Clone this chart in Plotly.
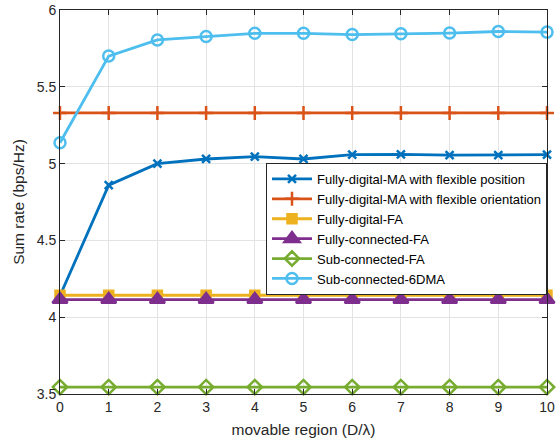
import plotly.graph_objects as go

x = list(range(11))
names = [
    "Fully-digital-MA with flexible position",
    "Fully-digital-MA with flexible orientation",
    "Fully-digital-FA",
    "Fully-connected-FA",
    "Sub-connected-FA",
    "Sub-connected-6DMA",
]
fd_position = [4.14, 4.86, 5.00, 5.03, 5.045, 5.03, 5.058, 5.06, 5.055, 5.055, 5.058]
fd_orientation = [5.33] * 11
fd_fa = [4.143] * 11
fc_fa = [4.115] * 11
sc_fa = [3.545] * 11
sc_6dma = [5.136, 5.70, 5.805, 5.827, 5.848, 5.848, 5.84, 5.845, 5.85, 5.86, 5.856]

series = [fd_position, fd_orientation, fd_fa, fc_fa, sc_fa, sc_6dma]
colors = ["#0072BD", "#D95319", "#EDB120", "#7E2F8E", "#77AC30", "#4DBEEE"]
symbols = ["x-thin", "cross-thin", "square", "triangle-up", "diamond-open", "circle-open"]
sizes = [8, 10, 9, 13, 11, 11]

fig = go.Figure()
for name, ys, c, s, sz in zip(names, series, colors, symbols, sizes):
    fig.add_trace(go.Scatter(
        x=x, y=ys, name=name, mode="lines+markers",
        line=dict(color=c, width=2.8),
        marker=dict(symbol=s, size=sz, color=c, line=dict(color=c, width=2.5)),
        cliponaxis=False,
    ))

axis_common = dict(
    showline=True, linecolor="#262626", linewidth=1, mirror="ticks",
    ticks="inside", ticklen=5, tickcolor="#262626",
    showgrid=True, gridcolor="#E3E3E3", gridwidth=1, zeroline=False,
    automargin=False,
    tickfont=dict(family="Liberation Sans, Arial", size=14, color="#262626"),
)

fig.update_layout(
    width=559, height=441,
    margin=dict(l=60, r=12, t=10, b=47),
    plot_bgcolor="white", paper_bgcolor="white",
    font=dict(family="Liberation Sans, Arial", size=14, color="#262626"),
    xaxis=dict(range=[0, 10], tickvals=x, ticktext=[str(v) for v in x],
               title=dict(text="movable region (D/λ)", standoff=10, font=dict(size=15.5)),
               **axis_common),
    yaxis=dict(range=[3.5, 6], tickvals=[3.5, 4, 4.5, 5, 5.5, 6],
               ticktext=["3.5", "4", "4.5", "5", "5.5", "6"],
               title=dict(text="Sum rate (bps/Hz)", standoff=8, font=dict(size=15.5)),
               **axis_common),
    legend=dict(x=1, xanchor="right", y=0.6016, yanchor="top",
                bgcolor="white", bordercolor="#262626", borderwidth=1,
                font=dict(size=13, color="black"), tracegroupgap=0,
                itemwidth=40),
    showlegend=True,
)

fig.write_html("out.html")
